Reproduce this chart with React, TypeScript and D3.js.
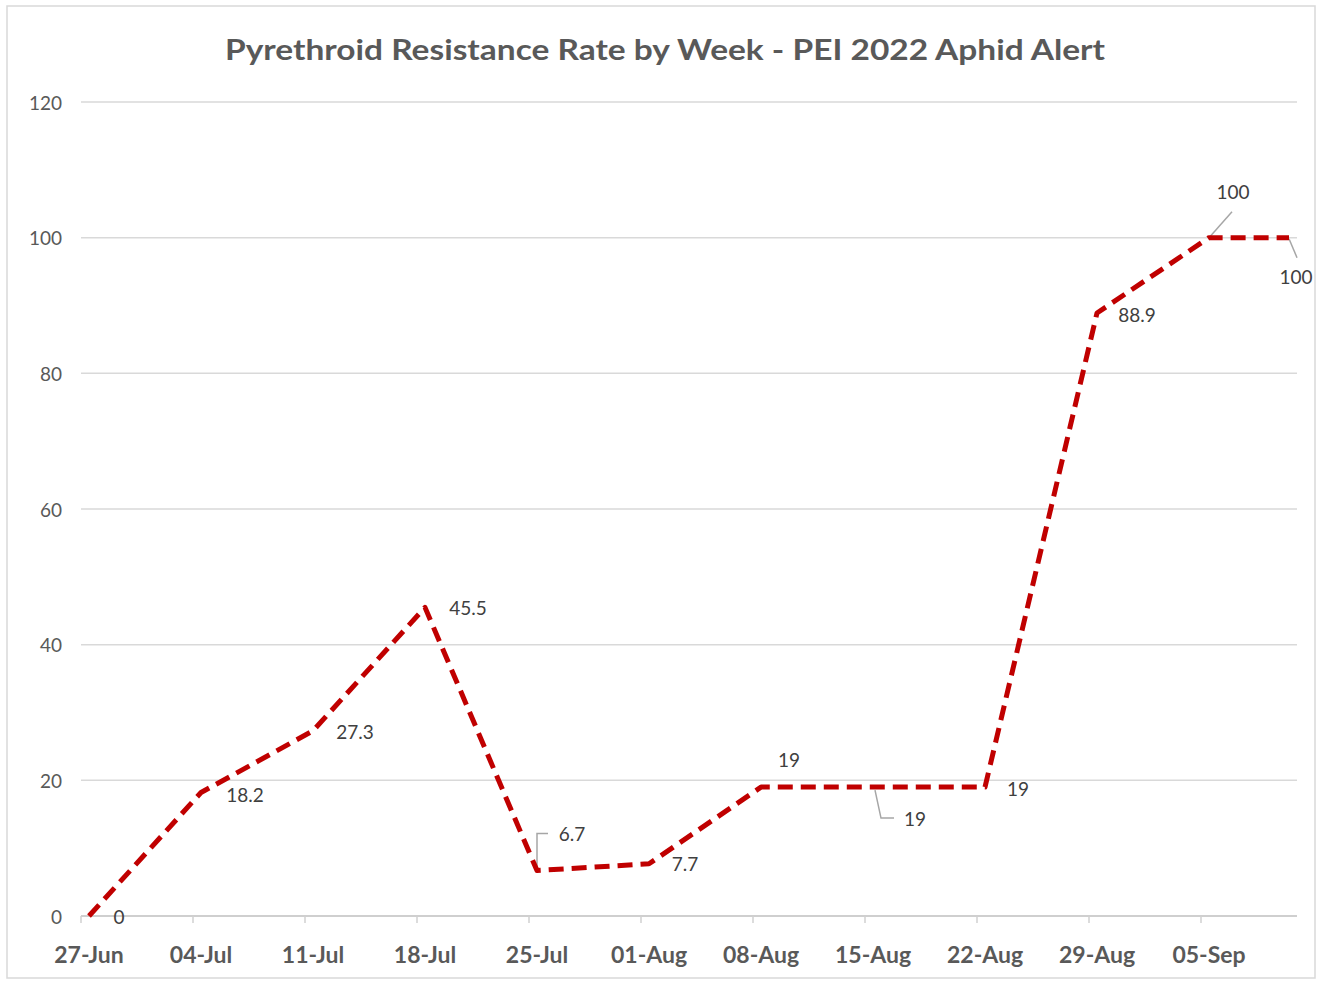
import * as d3 from "d3";

// chart values
const dates = [
  "2022-06-27", "2022-07-04", "2022-07-11", "2022-07-18", "2022-07-25", "2022-08-01",
  "2022-08-08", "2022-08-15", "2022-08-22", "2022-08-29", "2022-09-05", "2022-09-10",
];
const rates = [0, 18.2, 27.3, 45.5, 6.7, 7.7, 19, 19, 19, 88.9, 100, 100];
const labels = ["0", "18.2", "27.3", "45.5", "6.7", "7.7", "19", "19", "19", "88.9", "100", "100"];
const tickDates = [
  "2022-06-27", "2022-07-04", "2022-07-11", "2022-07-18", "2022-07-25", "2022-08-01",
  "2022-08-08", "2022-08-15", "2022-08-22", "2022-08-29", "2022-09-05",
];
const yTicks = [0, 20, 40, 60, 80, 100, 120];
const title = "Pyrethroid Resistance Rate by Week - PEI 2022 Aphid Alert";

// label placement (offset from the point, px) and leader lines, like the excel one
const labelPos: [number, number][] = [
  [30, 0], [44, 2], [42, 1], [43, 0], [35, -37], [36, 0],
  [28, -28], [42, 31], [33, 1], [40, 2], [24, -46], [7, 39],
];
const leaders: ([number, number][] | null)[] = [
  null, null, null, null,
  [[0, -3], [0, -37], [11, -37]],
  null, null,
  [[2, 3], [8, 31], [21, 31]],
  null, null,
  [[0, 0], [23, -26]],
  [[0, 1], [8, 20]],
];

const parse = d3.timeParse("%Y-%m-%d");
const fmt = d3.timeFormat("%d-%b");
const font = "Lato, 'Open Sans', sans-serif";

function App() {
  const W = 1321;
  const H = 982;
  const left = 81;
  const right = 1297;
  const top = 102;
  const bottom = 916;

  const start = parse(dates[0])!;
  const end = d3.timeDay.offset(parse(dates[dates.length - 1])!, 1);
  const x = d3.scaleTime().domain([start, end]).range([left, right]);
  const y = d3.scaleLinear().domain([0, 120]).range([bottom, top]);

  // excel date axis puts points mid-day
  const mid = (s: string) => d3.timeHour.offset(parse(s)!, 12);

  const pts: [number, number][] = dates.map((d, i) => [x(mid(d)), y(rates[i])]);
  const line = d3.line();

  const ticks = tickDates.map((d) => parse(d)!);

  return (
    <svg
      width={W}
      height={H}
      style={{ position: "absolute", left: 0, top: 0, background: "#fff" }}
    >
      <rect x={7} y={6} width={1308} height={972} fill="#fff" stroke="#d9d9d9" strokeWidth={1.5} />
      <text
        x={665}
        y={60}
        textAnchor="middle"
        fontFamily={font}
        fontWeight="bold"
        fontSize={29}
        fill="#595959"
        textLength={880}
        lengthAdjust="spacingAndGlyphs"
      >
        {title}
      </text>

      {yTicks.map((t) => (
        <g key={t}>
          {t > 0 && (
            <line x1={left} x2={right} y1={y(t)} y2={y(t)} stroke="#d9d9d9" strokeWidth={1.5} />
          )}
          <text
            x={62}
            y={y(t)}
            textAnchor="end"
            dominantBaseline="central"
            fontFamily={font}
            fontSize={19}
            fill="#595959"
          >
            {t}
          </text>
        </g>
      ))}

      <line x1={left} x2={right} y1={bottom} y2={bottom} stroke="#bfbfbf" strokeWidth={1.5} />
      {ticks.map((d, i) => (
        <line key={i} x1={x(d)} x2={x(d)} y1={bottom} y2={bottom + 7} stroke="#d0d0d0" strokeWidth={1.5} />
      ))}
      {ticks.map((d, i) => (
        <text
          key={i}
          x={x(d3.timeHour.offset(d, 12))}
          y={954}
          textAnchor="middle"
          dominantBaseline="central"
          fontFamily={font}
          fontWeight="bold"
          fontSize={23}
          fill="#595959"
        >
          {fmt(d)}
        </text>
      ))}

      {leaders.map((l, i) =>
        l ? (
          <polyline
            key={i}
            points={l.map(([dx, dy]) => `${pts[i][0] + dx},${pts[i][1] + dy}`).join(" ")}
            fill="none"
            stroke="#a6a6a6"
            strokeWidth={1.5}
          />
        ) : null
      )}

      <path
        d={line(pts) || ""}
        fill="none"
        stroke="#c00000"
        strokeWidth={5}
        strokeDasharray="15 8"
        strokeLinejoin="round"
      />

      {labels.map((s, i) => (
        <text
          key={i}
          x={pts[i][0] + labelPos[i][0]}
          y={pts[i][1] + labelPos[i][1]}
          textAnchor="middle"
          dominantBaseline="central"
          fontFamily={font}
          fontSize={19}
          fill="#404040"
        >
          {s}
        </text>
      ))}
    </svg>
  );
}

export default App;
